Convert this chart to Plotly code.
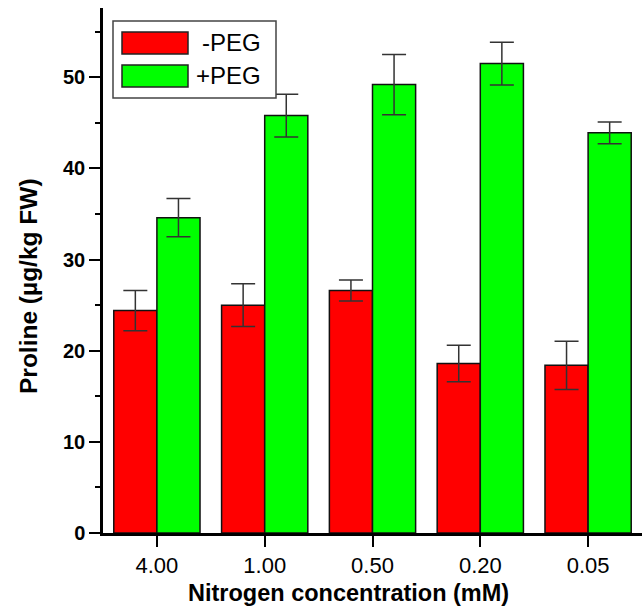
import plotly.graph_objects as go

categories = ["4.00", "1.00", "0.50", "0.20", "0.05"]
minus_peg = [24.4, 25.0, 26.6, 18.6, 18.4]
minus_peg_err = [2.2, 2.35, 1.15, 2.0, 2.65]
plus_peg = [34.6, 45.8, 49.2, 51.5, 43.9]
plus_peg_err = [2.1, 2.35, 3.3, 2.35, 1.2]
series_names = ["-PEG", "+PEG"]
colors = ["#ff0000", "#00ff00"]

W, H = 643, 606
L, R, T, B = 103, 1, 8, 73
pw, ph = W - L - R, H - T - B

fig = go.Figure()
for name, vals, errs, col in zip(series_names, [minus_peg, plus_peg],
                                 [minus_peg_err, plus_peg_err], colors):
    fig.add_trace(go.Bar(
        x=categories, y=vals, name=name,
        marker=dict(color=col, line=dict(color="#111111", width=1.5)),
        error_y=dict(type="data", array=errs, visible=True,
                     color="#333333", thickness=1.5, width=12),
        showlegend=False,
    ))

fig.update_layout(
    width=W, height=H,
    margin=dict(l=L, r=R, t=T, b=B),
    plot_bgcolor="white", paper_bgcolor="white",
    barmode="group", bargap=0.2, bargroupgap=0,
    font=dict(family="Liberation Sans, Arial, sans-serif", color="black"),
)
fig.update_xaxes(
    type="category", range=[-0.5, 4.5],
    showline=True, linecolor="black", linewidth=2.5,
    ticks="outside", ticklen=11, tickwidth=2, tickcolor="black",
    tickfont=dict(size=22), showgrid=False, zeroline=False,
)
fig.update_yaxes(
    range=[0, 57.6], dtick=10, tick0=0,
    showline=True, linecolor="black", linewidth=2.5,
    ticks="outside", ticklen=11, tickwidth=2, tickcolor="black",
    tickfont=dict(size=20, family="Liberation Sans, Arial, sans-serif", weight="bold"),
    minor=dict(dtick=5, ticks="outside", ticklen=5, tickwidth=2, tickcolor="black"),
    showgrid=False, zeroline=False,
)

def px(x):
    return (x - L) / pw

def py(y):
    return 1 - (y - T) / ph

# axis titles
fig.add_annotation(x=px(348), y=py(593), xref="paper", yref="paper",
                   text="<b>Nitrogen concentration (mM)</b>", showarrow=False,
                   font=dict(size=23.5), xanchor="center", yanchor="middle")
fig.add_annotation(x=px(28), y=py(286), xref="paper", yref="paper",
                   text="<b>Proline (µg/kg FW)</b>", showarrow=False, textangle=-90,
                   font=dict(size=24.5), xanchor="center", yanchor="middle")

# legend box
fig.add_shape(type="rect", xref="paper", yref="paper",
              x0=px(113), x1=px(276), y0=py(21), y1=py(98),
              line=dict(color="#444444", width=1.5), fillcolor="white", layer="above")
for i, (name, col) in enumerate(zip(series_names, colors)):
    y0, y1 = (32, 54) if i == 0 else (65, 87)
    fig.add_shape(type="rect", xref="paper", yref="paper",
                  x0=px(122), x1=px(188), y0=py(y0), y1=py(y1),
                  line=dict(color="#222222", width=1.5), fillcolor=col, layer="above")
    fig.add_annotation(x=px(263), y=py((y0 + y1) / 2), xref="paper", yref="paper",
                       text=name, showarrow=False, font=dict(size=24),
                       xanchor="right", yanchor="middle")

fig.write_html("out.html", config={"displayModeBar": False},
               post_script="document.body.style.margin='0';document.body.style.padding='0';document.body.style.overflow='hidden';")
